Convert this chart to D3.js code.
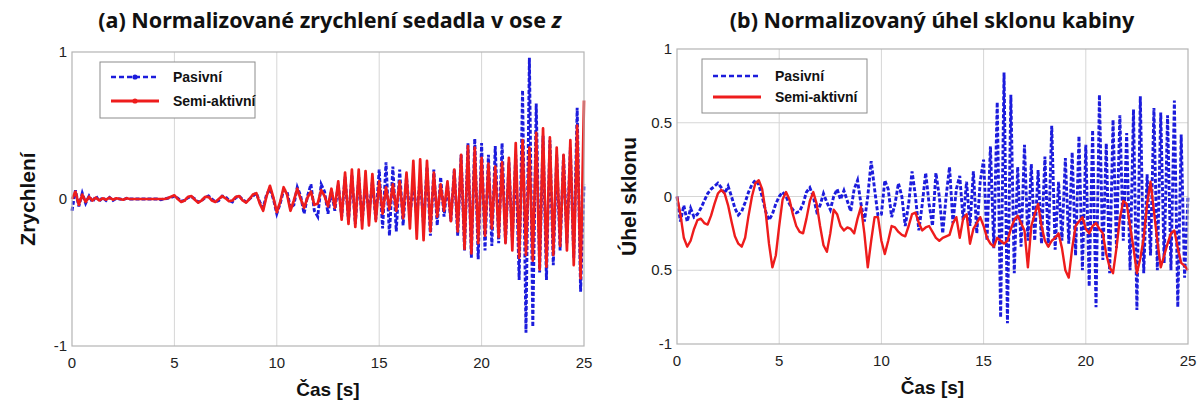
<!DOCTYPE html>
<html>
<head>
<meta charset="utf-8">
<script src="https://cdn.jsdelivr.net/npm/d3@7"></script>
<style>
  body { margin: 0; background: #fff; }
  svg { display: block; }
  .tick-label { font-family: "Liberation Sans", Arial, sans-serif; font-size: 15px; fill: #222; }
  .axis-title { font-family: "Liberation Sans", Arial, sans-serif; font-size: 19px; font-weight: bold; fill: #111; }
  .y-title { font-size: 21px; }
  .chart-title { font-family: "Noto Sans", sans-serif; font-size: 21.5px; font-weight: 700; fill: #111; }
  .legend-text { font-family: "Liberation Sans", Arial, sans-serif; font-size: 14px; font-weight: bold; fill: #111; }
</style>
</head>
<body>
<svg width="1197" height="405"></svg>
<script>
// samples every 1/6 s, 0..25 s
var samplesPerSec = 6;

var xTicks = [0, 5, 10, 15, 20, 25];
var seriesNames = ["Pasivní", "Semi-aktivní"];

// (a) seat acceleration
var accTicks = [1, 0, -1];
var accPassive = [
  -0.08, 0.06, -0.05, 0.04, -0.03, 0.02,
  -0.02, 0.02, -0.015, 0.01, -0.01, 0.01,
  -0.01, 0.005, 0, -0.005, 0.005, 0,
  0, 0, 0, 0, 0, 0,
  0, 0, -0.005, 0, 0.005, 0.01,
  0.02, 0.005, -0.015, -0.01, 0.01, 0.015,
  0, -0.02, -0.01, 0.01, 0.02, 0,
  -0.02, -0.01, 0.02, 0.015, -0.01, -0.02,
  0.01, 0.02, -0.005, -0.02, 0, 0.02,
  0.04, -0.02, -0.06, 0.03, 0.07, 0,
  -0.1, -0.03, 0.06, 0.05, -0.06, -0.04,
  0.08, 0.02, -0.1, 0.02, 0.1, -0.08,
  -0.12, 0.1, 0.05, -0.1, 0.06, -0.08,
  0.1, -0.12, 0.15, -0.15, 0.16, -0.17,
  0.15, -0.15, 0.1, -0.1, 0.12, -0.14,
  0.2, -0.2, 0.25, -0.25, 0.22, -0.22,
  0.2, -0.18, 0.15, -0.12, 0.1, -0.12,
  0.15, -0.18, 0.22, -0.25, 0.2, -0.18,
  0.15, -0.12, 0.1, -0.15, 0.2, -0.25,
  0.3, -0.35, 0.38, -0.4, 0.41, -0.41,
  0.38, -0.35, 0.3, -0.32, 0.36, -0.3,
  0.38, -0.3, 0.25, -0.28, 0.3, -0.55,
  0.74, -0.91, 0.96, -0.87, 0.65, -0.5,
  0.43, -0.55, 0.4, -0.45, 0.3, -0.35,
  0.3, -0.3, 0.35, -0.4, 0.62, -0.63,
  0.1
];
var accSemi = [
  0, 0.05, -0.04, 0.03, -0.02, 0.015,
  -0.01, 0.01, -0.01, 0.005, -0.005, 0.01,
  -0.005, 0.005, 0, -0.005, 0.005, 0,
  0, 0, 0, 0, 0, 0,
  0, 0, 0, 0, 0.005, 0.015,
  0.025, 0, -0.02, -0.01, 0.015, 0.02,
  -0.005, -0.025, -0.01, 0.015, 0.015, -0.01,
  -0.02, 0, 0.02, 0.005, -0.015, -0.01,
  0.015, 0.02, -0.01, -0.025, 0, 0.03,
  0.04, -0.03, -0.08, 0.02, 0.09, 0.01,
  -0.09, -0.02, 0.08, 0.03, -0.08, -0.01,
  0.07, 0, -0.06, 0.01, 0.05, -0.04,
  -0.03, 0.06, 0.02, -0.05, 0.07, -0.06,
  0.12, -0.14, 0.18, -0.17, 0.2, -0.19,
  0.2, -0.2, 0.19, -0.18, 0.17, -0.15,
  0.12, -0.1, 0.08, -0.07, 0.1, -0.08,
  0.12, -0.13, 0.18, -0.2, 0.26, -0.27,
  0.27, -0.28, 0.26, -0.22, 0.18, -0.12,
  0.1, -0.08, 0.12, -0.15, 0.2, -0.22,
  0.3, -0.34, 0.36, -0.37, 0.35, -0.3,
  0.28, -0.25, 0.24, -0.2, 0.22, -0.26,
  0.25, -0.3, 0.28, -0.35, 0.38, -0.4,
  0.4, -0.38, 0.35, -0.42, 0.45, -0.48,
  0.48, -0.46, 0.42, -0.38, 0.35, -0.32,
  0.3, -0.35, 0.4, -0.45, 0.5, -0.54,
  0.67
];

// (b) cabin pitch angle
var angleTicks = [1, 0.5, 0, -0.5, -1];
var angleTickLabels = ["1", "0.5", "0", "0.5", "-1"];
var anglePassive = [
  0, -0.17, -0.06, -0.17, -0.08, -0.14,
  -0.12, -0.08, -0.03, 0.02, 0.05, 0.07,
  0.09, 0.06, 0.02, 0.07, 0, -0.08,
  -0.125, -0.1, -0.04, 0.03, 0.08, 0.11,
  0.08, 0, -0.1, -0.16, -0.12, -0.05,
  0, 0.03, 0, -0.05, -0.09, -0.11,
  -0.1, -0.05, 0.03, 0.06, 0, -0.1,
  -0.06, 0.02, -0.04, -0.09, 0, 0.05,
  -0.02, 0.04, -0.03, -0.1, 0.05, 0.11,
  -0.05, -0.17, 0, 0.24, 0.05, -0.13,
  -0.12, 0.11, 0.05, -0.14, -0.05, 0.09,
  0, -0.2, -0.05, 0.17, 0, -0.23,
  -0.05, 0.16, -0.05, -0.2, 0.16, 0,
  -0.25, 0, 0.2, -0.18, 0.05, 0.14,
  -0.16, 0.1, -0.2, 0.17, -0.25, 0.1,
  0.25, -0.3, 0.34, -0.35, 0.64, -0.82,
  0.84, -0.86, 0.69, -0.52, 0.2, -0.34,
  0.35, -0.3, 0.22, -0.3, 0.18, -0.32,
  0.27, -0.34, 0.48, -0.36, 0.1, -0.3,
  0.26, -0.32, 0.3, -0.4, 0.41, -0.5,
  0.35, -0.61, 0.45, -0.75, 0.69, -0.43,
  0.36, -0.52, 0.52, -0.35, 0.55, -0.3,
  0.43, -0.5, 0.59, -0.77, 0.68, -0.52,
  0.15, -0.4, 0.6, -0.5, 0.57, -0.45,
  0.55, -0.5, 0.65, -0.75, 0.42, -0.55,
  0
];
var angleSemi = [
  0, -0.12, -0.28, -0.34, -0.3, -0.22,
  -0.16, -0.15, -0.18, -0.19, -0.13, -0.05,
  0.02, 0.045, 0.02, -0.06, -0.17, -0.27,
  -0.32, -0.34, -0.28, -0.13, 0, 0.09,
  0.11, 0.05, -0.1, -0.32, -0.48, -0.4,
  -0.2, -0.02, 0.03, -0.02, -0.12, -0.2,
  -0.24, -0.25, -0.15, -0.03, 0.03, -0.05,
  -0.2, -0.33, -0.375, -0.25, -0.09, -0.12,
  -0.2, -0.23, -0.21, -0.22, -0.25, -0.15,
  -0.07, -0.25, -0.48, -0.3, -0.14, -0.14,
  -0.3, -0.39, -0.3, -0.2, -0.21, -0.24,
  -0.26, -0.27, -0.2, -0.12, -0.11, -0.18,
  -0.23, -0.21, -0.2, -0.24, -0.28, -0.3,
  -0.28, -0.27, -0.26, -0.18, -0.14, -0.28,
  -0.15, -0.12, -0.32, -0.22, -0.18, -0.14,
  -0.2, -0.28, -0.32, -0.34, -0.28, -0.3,
  -0.32, -0.3, -0.22, -0.16, -0.13, -0.18,
  -0.23, -0.48, -0.2, -0.12, -0.05, -0.2,
  -0.3, -0.34, -0.3, -0.28, -0.25, -0.35,
  -0.5, -0.55, -0.35, -0.2, -0.17, -0.14,
  -0.22, -0.25, -0.2, -0.18, -0.22, -0.25,
  -0.39, -0.48, -0.52, -0.35, -0.15, -0.03,
  -0.05, -0.2, -0.35, -0.52, -0.42, -0.28,
  -0.05, 0.1, -0.1, -0.3, -0.48, -0.4,
  -0.32, -0.25, -0.23, -0.35, -0.45, -0.47,
  -0.5
];

var blue = "#1c1cdc", red = "#ee1c1c";
var svg = d3.select("svg");

function panel(opt) {
  var x = d3.scaleLinear().domain([0, 25]).range([opt.left, opt.right]);
  var y = d3.scaleLinear().domain([-1, 1]).range([opt.bottom, opt.top]);
  var g = svg.append("g");

  // grid
  g.selectAll(".vgrid").data(xTicks.slice(1, -1)).enter().append("line")
    .attr("x1", d => x(d)).attr("x2", d => x(d))
    .attr("y1", opt.top).attr("y2", opt.bottom)
    .attr("stroke", "#d6d6d6").attr("stroke-width", 1);
  g.selectAll(".hgrid").data(opt.hGrid).enter().append("line")
    .attr("x1", opt.left).attr("x2", opt.right)
    .attr("y1", d => y(d)).attr("y2", d => y(d))
    .attr("stroke", "#d6d6d6").attr("stroke-width", 1);

  var line = d3.line().x((d, i) => x(i / samplesPerSec)).y(d => y(d));
  g.append("path").datum(opt.passive)
    .attr("d", line).attr("fill", "none")
    .attr("stroke", blue).attr("stroke-width", 2.9)
    .attr("stroke-dasharray", "4,2");
  g.append("path").datum(opt.semi)
    .attr("d", line).attr("fill", "none")
    .attr("stroke", red).attr("stroke-width", opt.semiWidth)
    .attr("stroke-linejoin", "round");

  // frame
  g.append("rect")
    .attr("x", opt.left).attr("y", opt.top)
    .attr("width", opt.right - opt.left).attr("height", opt.bottom - opt.top)
    .attr("fill", "none").attr("stroke", "#b4b4b4").attr("stroke-width", 1.2);

  // tick labels
  g.selectAll(".xt").data(xTicks).enter().append("text")
    .attr("class", "tick-label")
    .attr("x", d => x(d)).attr("y", opt.bottom + 22)
    .attr("text-anchor", "middle").text(d => d);
  g.selectAll(".yt").data(opt.yTicks).enter().append("text")
    .attr("class", "tick-label")
    .attr("x", opt.left - 5).attr("y", d => y(d) + 5)
    .attr("text-anchor", "end").text((d, i) => opt.yLabels[i]);

  // axis titles
  g.append("text").attr("class", "axis-title")
    .attr("x", (opt.left + opt.right) / 2).attr("y", opt.bottom + 50)
    .attr("text-anchor", "middle").text("Čas [s]");
  g.append("text").attr("class", "axis-title y-title")
    .attr("transform", "translate(" + opt.yTitleX + "," + y(0) + ") rotate(-90)")
    .attr("text-anchor", "middle").text(opt.yTitle);

  // title
  var t = g.append("text").attr("class", "chart-title")
    .attr("x", opt.titleX).attr("y", 28).attr("text-anchor", "middle");
  t.append("tspan").text(opt.title);
  if (opt.titleItalic) t.append("tspan").attr("font-style", "italic").text(opt.titleItalic);

  // legend
  var lg = g.append("g");
  lg.append("rect")
    .attr("x", opt.legend.x).attr("y", opt.legend.y)
    .attr("width", opt.legend.w).attr("height", opt.legend.h)
    .attr("fill", "#fff").attr("stroke", "#8c8c8c").attr("stroke-width", 1);
  seriesNames.forEach(function (name, i) {
    var ly = opt.legend.rows[i];
    lg.append("line")
      .attr("x1", opt.legend.x + 11).attr("x2", opt.legend.x + 59)
      .attr("y1", ly).attr("y2", ly)
      .attr("stroke", i === 0 ? blue : red).attr("stroke-width", i === 0 ? 2.4 : 2.8)
      .attr("stroke-dasharray", i === 0 ? "5,3" : null);
    if (opt.legend.markers) {
      lg.append("circle").attr("cx", opt.legend.x + 35).attr("cy", ly).attr("r", 2.6)
        .attr("fill", i === 0 ? blue : red);
    }
    lg.append("text").attr("class", "legend-text")
      .attr("x", opt.legend.x + 73).attr("y", ly + 5).text(name);
  });
}

panel({
  left: 72, right: 584, top: 52, bottom: 346,
  passive: accPassive, semi: accSemi, semiWidth: 2.7,
  yTicks: accTicks, yLabels: accTicks.map(String), hGrid: [],
  yTitle: "Zrychlení", yTitleX: 35,
  title: "(a) Normalizované zrychlení sedadla v ose ", titleItalic: "z", titleX: 330,
  legend: { x: 100, y: 62, w: 155, h: 56, rows: [77, 101], markers: true }
});

panel({
  left: 677, right: 1188, top: 49, bottom: 344,
  passive: anglePassive, semi: angleSemi, semiWidth: 2.4,
  yTicks: angleTicks, yLabels: angleTickLabels, hGrid: [0.5, 0, -0.5],
  yTitle: "Úhel sklonu", yTitleX: 636,
  title: "(b) Normalizovaný úhel sklonu kabiny", titleItalic: null, titleX: 932,
  legend: { x: 702, y: 59, w: 165, h: 54, rows: [76, 97], markers: false }
});
</script>
</body>
</html>
